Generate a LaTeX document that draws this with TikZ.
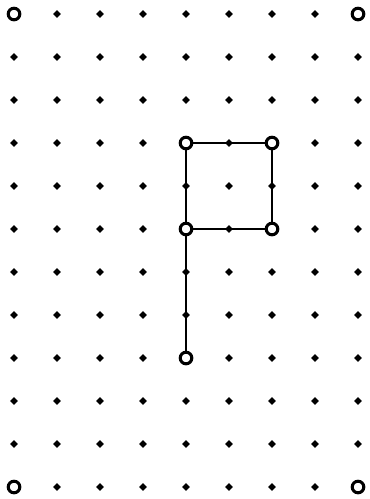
\documentclass[tikz,border=0pt]{standalone}
\usetikzlibrary{shapes.geometric}

\begin{document}
\begin{tikzpicture}[
  x=1cm, y=-1cm,
  dot/.style={diamond, fill=black, inner sep=0pt, minimum size=0.19cm},
  ring/.style={circle, draw, line width=2pt, fill=white, inner sep=0pt, minimum size=0.27cm},
  edge/.style={draw, line width=1.6pt}
  ]

  \useasboundingbox (-0.326,-0.326) rectangle (8.256,11.279);

  \foreach \i in {0,...,8}
    \foreach \j in {0,...,11}
      \node[dot] (d-\i-\j) at (\i,\j) {};

  \foreach \i/\j in {0/0, 8/0, 0/11, 8/11, 4/3, 6/3, 4/5, 6/5, 4/8}
    \node[ring] (r-\i-\j) at (d-\i-\j) {};

  \path[edge] (r-4-8) -- (r-4-5) -- (r-4-3);
  \path[edge] (r-4-3) -- (r-6-3);
  \path[edge] (r-6-3) -- (r-6-5);
  \path[edge] (r-6-5) -- (r-4-5);

\end{tikzpicture}
\end{document}
